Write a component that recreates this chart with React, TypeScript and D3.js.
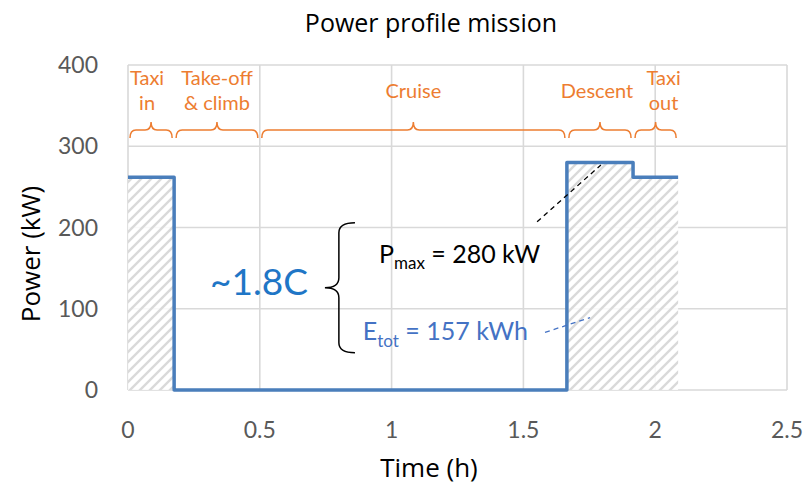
import React from 'react';
import * as d3 from 'd3';

// power profile (step after): time in h, power in kW
const stepTimes = [0, 0.175, 1.665, 1.916, 2.087];
const stepPower = [262, 0, 280, 262, 262];

// mission phases shown with braces above the plot
const phaseStart = [0, 0.175, 0.5, 1.665, 1.916];
const phaseEnd = [0.175, 0.5, 1.665, 1.916, 2.087];
const phaseLabels = [['Taxi', 'in'], ['Take-off', '& climb'], ['Cruise'], ['Descent'], ['Taxi', 'out']];
const phaseLabelShift = [-4, 0, 0, -3, 8];

const xTicks = [0, 0.5, 1, 1.5, 2, 2.5];
const yTicks = [0, 100, 200, 300, 400];

const FONT = 'Lato, "Open Sans", sans-serif';
const TITLE_FONT = '"Open Sans", sans-serif';
const ORANGE = '#ED7D31';
const LINE = '#4A7EBB';

const W = 808;
const H = 492;
const margin = { top: 65, right: 21, bottom: 102, left: 128 };

export default function App() {
  const x = d3.scaleLinear().domain([0, 2.5]).range([margin.left, W - margin.right]);
  const y = d3.scaleLinear().domain([0, 400]).range([H - margin.bottom, margin.top]);

  const pts = stepTimes.map((t, i) => ({ t, p: stepPower[i] }));
  const line = d3.line<{ t: number; p: number }>()
    .x(d => x(d.t)).y(d => y(d.p)).curve(d3.curveStepAfter);
  const area = d3.area<{ t: number; p: number }>()
    .x(d => x(d.t)).y0(y(0)).y1(d => y(d.p)).curve(d3.curveStepAfter);

  // curly brace opening upward, tip in the middle
  const brace = (x1: number, x2: number, yb: number) => {
    const xm = (x1 + x2) / 2;
    const h = 8;
    const r = Math.min(6, (x2 - x1) / 4);
    return `M${x1},${yb + h} Q${x1},${yb} ${x1 + r},${yb} L${xm - r},${yb} Q${xm},${yb} ${xm},${yb - h}` +
      ` Q${xm},${yb} ${xm + r},${yb} L${x2 - r},${yb} Q${x2},${yb} ${x2},${yb + h}`;
  };

  // left brace in front of the annotations
  const bx = x(0.747), bv = x(0.8), be = x(0.861);
  const bTop = y(206), bMid = y(126), bBot = y(46);
  const leftBrace = `M${be},${bTop} Q${bv},${bTop} ${bv},${bTop + 10} L${bv},${bMid - 10} Q${bv},${bMid} ${bx},${bMid}` +
    ` Q${bv},${bMid} ${bv},${bMid + 10} L${bv},${bBot - 10} Q${bv},${bBot} ${be},${bBot}`;

  return (
    <svg width={W} height={H} style={{ position: 'absolute', left: 0, top: 0, background: '#fff' }}
      fontFamily={FONT}>
      <defs>
        <pattern id="hatch" width={10} height={10} patternUnits="userSpaceOnUse">
          <rect width={10} height={10} fill="#fff" fillOpacity={0.85} />
          <path d="M0,10 L10,0 M-2.5,2.5 L2.5,-2.5 M7.5,12.5 L12.5,7.5" stroke="#D9D9D9" strokeWidth={2.4} />
        </pattern>
      </defs>

      <text x={431} y={32} textAnchor="middle" fontSize={25} fontFamily={TITLE_FONT} fill="#000">Power profile mission</text>

      {/* grid */}
      {yTicks.map(v => (
        <line key={'gy' + v} x1={x(0)} x2={x(2.5)} y1={y(v)} y2={y(v)} stroke="#D9D9D9" strokeWidth={1.6} />
      ))}
      {xTicks.map(v => (
        <line key={'gx' + v} x1={x(v)} x2={x(v)} y1={y(0)} y2={y(400)} stroke="#D9D9D9" strokeWidth={1.6} />
      ))}

      {/* hatched energy area + power line */}
      <path d={area(pts) ?? ''} fill="url(#hatch)" />
      <path d={line(pts) ?? ''} fill="none" stroke={LINE} strokeWidth={3.5} strokeLinejoin="round" />

      {/* axes labels */}
      {yTicks.map(v => (
        <text key={'ty' + v} x={98} y={y(v) + 8} textAnchor="end" fontSize={23} fill="#595959">{v}</text>
      ))}
      {xTicks.map(v => (
        <text key={'tx' + v} x={x(v)} y={438} textAnchor="middle" fontSize={23} fill="#595959">{v}</text>
      ))}
      <text x={429} y={477} textAnchor="middle" fontSize={26} fontFamily={TITLE_FONT} fill="#000">Time (h)</text>
      <text transform={`translate(40,${254}) rotate(-90)`} textAnchor="middle" fontSize={26}
        fontFamily={TITLE_FONT} fill="#000">Power (kW)</text>

      {/* phases */}
      {phaseLabels.map((lab, i) => {
        const x1 = x(phaseStart[i]) + 2;
        const x2 = x(phaseEnd[i]) - 2;
        const xm = (x1 + x2) / 2;
        const lx = xm + phaseLabelShift[i];
        return (
          <g key={'ph' + i}>
            <path d={brace(x1, x2, 130)} fill="none" stroke={ORANGE} strokeWidth={1.5} />
            {lab.length === 2 ? (
              <>
                <text x={lx} y={85} textAnchor="middle" fontSize={20} fill={ORANGE}>{lab[0]}</text>
                <text x={lx} y={110} textAnchor="middle" fontSize={20} fill={ORANGE}>{lab[1]}</text>
              </>
            ) : (
              <text x={lx} y={98} textAnchor="middle" fontSize={20} fill={ORANGE}>{lab[0]}</text>
            )}
          </g>
        );
      })}

      {/* annotations */}
      <text x={x(0.497)} y={y(117)} textAnchor="middle" fontSize={37} fill="#1F76C6">~1.8C</text>
      <path d={leftBrace} fill="none" stroke="#000" strokeWidth={1.5} />
      <text x={x(0.952)} y={y(156)} fontSize={25} fill="#000">
        P<tspan fontSize={17} dy={6}>max</tspan><tspan dy={-6}> = 280 kW</tspan>
      </text>
      <text x={x(0.891)} y={y(62)} fontSize={25} fill="#4472C4">
        E<tspan fontSize={17} dy={7}>tot</tspan><tspan dy={-7}> = 157 kWh</tspan>
      </text>
      <line x1={x(1.552)} y1={y(207)} x2={x(1.794)} y2={y(277)} stroke="#000" strokeWidth={1.3} strokeDasharray="5,4" />
      <line x1={x(1.582)} y1={y(71)} x2={x(1.753)} y2={y(89)} stroke="#4472C4" strokeWidth={1.3} strokeDasharray="5,4" />
    </svg>
  );
}
